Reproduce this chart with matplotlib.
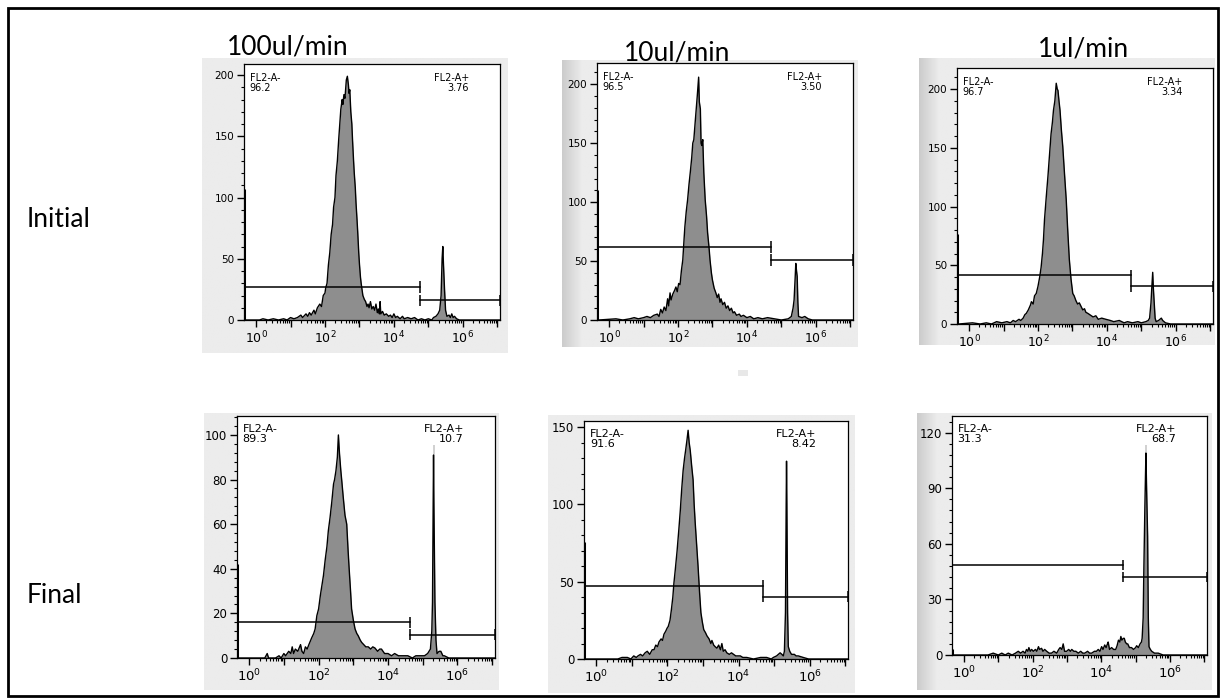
import numpy as np
import matplotlib
matplotlib.use("Agg")
import matplotlib.pyplot as plt
from matplotlib.patches import Rectangle
from matplotlib.ticker import FixedLocator, FuncFormatter, MultipleLocator, AutoMinorLocator

# column / row labels
flow_rates = ["100ul/min", "10ul/min", "1ul/min"]
stages = ["Initial", "Final"]

# gate percentages (FL2-A- / FL2-A+)
neg_pct = ["96.2", "96.5", "96.7", "89.3", "91.6", "31.3"]
pos_pct = ["3.76", "3.50", "3.34", "10.7", "8.42", "68.7"]

# gate boundary (log10 FL2-A) and gate bar heights (counts)
gate_split = [4.77, 4.71, 4.71, 4.62, 4.70, 4.62]
gate_neg_y = [27, 62, 41.5, 16, 47.5, 48.5]
gate_pos_y = [16, 51, 32, 10.4, 40.4, 42]

# events piled up at the lower edge of the axis
edge_counts = [107, 110, 77, 42, 76, 3]

# y axis settings
y_top = [209, 218, 218, 108.5, 154, 129]
y_step = [50, 50, 50, 20, 50, 30]

# histogram outlines: log10(FL2-A) and counts
x_p1 = [-0.3, 0.1, 0.2, 0.35, 0.5, 0.65, 0.8, 0.9, 1.0, 1.1, 1.2, 1.3, 1.35, 1.45, 1.5, 1.55,
        1.6, 1.68, 1.72, 1.78, 1.85, 1.9, 1.95, 2.0, 2.02, 2.06, 2.1, 2.14, 2.18, 2.22, 2.25,
        2.29, 2.32, 2.36, 2.4, 2.43, 2.46, 2.5, 2.52, 2.55, 2.58, 2.62, 2.65, 2.68, 2.7, 2.72,
        2.75, 2.78, 2.8, 2.83, 2.85, 2.88, 2.9, 2.93, 2.95, 2.98, 3.0, 3.03, 3.05, 3.08, 3.1,
        3.14, 3.18, 3.22, 3.25, 3.28, 3.32, 3.36, 3.4, 3.44, 3.48, 3.52, 3.55, 3.58, 3.6, 3.62,
        3.67, 3.72, 3.78, 3.85, 3.9, 3.95, 4.0, 4.05, 4.1, 4.18, 4.25, 4.3, 4.4, 4.5, 4.6, 4.7,
        4.8, 4.9, 5.0, 5.1, 5.15, 5.22, 5.28, 5.33, 5.37, 5.4, 5.42, 5.44, 5.47, 5.5, 5.54, 5.6,
        5.64, 5.68, 5.72, 5.76, 5.82, 5.9, 7.2]
y_p1 = [0, 0, 1, 0, 1, 0, 1, 0, 2, 1, 2, 4, 2, 5, 3, 6,
        4, 8, 5, 10, 13, 11, 20, 22, 26, 30, 45, 55, 70, 78, 92,
        100, 118, 130, 148, 160, 172, 180, 176, 184, 181, 196, 199, 192, 185, 188,
        170, 160, 147, 130, 120, 108, 96, 82, 72, 55, 46, 35, 30, 24, 20,
        17, 15, 11, 13, 10, 15, 9, 11, 8, 13, 6, 9, 5, 15, 5,
        7, 4, 5, 3, 4, 2, 5, 2, 3, 1, 3, 1, 2, 1, 2, 0,
        1, 0, 1, 0, 2, 3, 5, 8, 20, 50, 60, 45, 25, 8, 3, 4,
        2, 5, 2, 3, 1, 0, 0]

x_p2 = [-0.3, 0.2, 0.4, 0.6, 0.73, 0.85, 1.0, 1.1, 1.2, 1.3, 1.4, 1.45, 1.5, 1.55, 1.6, 1.65,
        1.7, 1.73, 1.77, 1.8, 1.85, 1.9, 1.94, 1.98, 2.02, 2.06, 2.1, 2.14, 2.18, 2.2, 2.24,
        2.28, 2.32, 2.36, 2.4, 2.43, 2.46, 2.5, 2.53, 2.56, 2.6, 2.62, 2.65, 2.67, 2.69, 2.72,
        2.75, 2.79, 2.83, 2.86, 2.9, 2.93, 2.97, 3.0, 3.05, 3.1, 3.14, 3.18, 3.22, 3.25, 3.3,
        3.35, 3.4, 3.45, 3.5, 3.55, 3.6, 3.64, 3.7, 3.78, 3.83, 3.9, 4.0, 4.1, 4.2, 4.32, 4.45,
        4.6, 4.8, 5.0, 5.2, 5.29, 5.34, 5.37, 5.4, 5.42, 5.44, 5.46, 5.48, 5.5, 5.6, 5.68, 5.78,
        5.9, 7.2]
y_p2 = [0, 1, 0, 1, 2, 1, 2, 3, 2, 4, 5, 3, 9, 6, 11, 8,
        18, 12, 23, 17, 22, 25, 28, 24, 31, 30, 42, 51, 70, 79, 92,
        102, 115, 126, 138, 150, 153, 168, 179, 190, 206, 185, 179, 150, 148, 153,
        125, 102, 88, 74, 62, 51, 40, 34, 27, 23, 19, 22, 15, 18, 13,
        15, 10, 12, 8, 10, 6, 7, 4, 5, 3, 4, 2, 3, 1, 2, 1,
        2, 1, 0, 1, 3, 10, 17, 35, 48, 42, 37, 15, 3, 2, 3, 1,
        0, 0]

x_p3 = [-0.3, 0.1, 0.32, 0.5, 0.65, 0.8, 0.95, 1.1, 1.2, 1.28, 1.35, 1.45, 1.5, 1.57, 1.62,
        1.66, 1.72, 1.78, 1.81, 1.86, 1.9, 1.95, 2.0, 2.05, 2.09, 2.13, 2.16, 2.19, 2.24, 2.29,
        2.33, 2.38, 2.42, 2.45, 2.49, 2.53, 2.56, 2.58, 2.61, 2.64, 2.68, 2.72, 2.77, 2.82,
        2.86, 2.91, 2.96, 3.01, 3.05, 3.1, 3.15, 3.2, 3.25, 3.3, 3.35, 3.39, 3.45, 3.5, 3.6,
        3.68, 3.75, 3.85, 3.97, 4.1, 4.2, 4.36, 4.5, 4.6, 4.74, 4.9, 5.0, 5.13, 5.2, 5.24,
        5.28, 5.3, 5.33, 5.35, 5.37, 5.4, 5.43, 5.5, 5.58, 5.62, 5.7, 5.85, 7.2]
y_p3 = [0, 1, 0, 1, 0, 2, 1, 2, 1, 3, 2, 4, 3, 5, 8,
        9, 12, 16, 19, 17, 24, 26, 32, 40, 48, 60, 72, 89, 108, 126,
        142, 162, 172, 182, 190, 205, 200, 199, 190, 182, 165, 151, 128, 106,
        82, 55, 38, 26, 24, 20, 17, 18, 15, 12, 13, 10, 9, 8, 6,
        7, 4, 5, 4, 3, 2, 3, 1, 2, 1, 2, 1, 2, 3, 5,
        18, 29, 44, 30, 20, 5, 2, 3, 5, 3, 1, 0, 0]

x_p4 = [-0.3, 0.38, 0.45, 0.52, 0.56, 0.76, 0.86, 0.92, 1.0, 1.05, 1.14, 1.2, 1.24, 1.28, 1.33,
        1.4, 1.48, 1.52, 1.57, 1.62, 1.67, 1.72, 1.76, 1.8, 1.86, 1.9, 1.95, 2.0, 2.05, 2.1,
        2.14, 2.19, 2.24, 2.28, 2.33, 2.38, 2.43, 2.46, 2.5, 2.54, 2.57, 2.6, 2.64, 2.67, 2.71,
        2.76, 2.81, 2.85, 2.88, 2.92, 2.95, 3.0, 3.05, 3.1, 3.14, 3.2, 3.24, 3.3, 3.36, 3.43,
        3.5, 3.56, 3.62, 3.7, 3.76, 3.81, 3.9, 4.0, 4.1, 4.19, 4.3, 4.45, 4.57, 4.7, 4.8, 4.95,
        5.05, 5.14, 5.22, 5.26, 5.28, 5.3, 5.31, 5.32, 5.35, 5.38, 5.41, 5.47, 5.52, 5.58,
        5.62, 5.75, 7.2]
y_p4 = [0, 0, 0, 2, 0, 0, 1, 0, 2, 1, 3, 2, 5, 2, 4,
        3, 6, 3, 2, 5, 4, 6, 7.5, 9, 11, 13, 19, 22, 28, 33,
        37, 44, 50, 57, 63, 70, 78, 80, 84, 90, 100, 92, 84, 79, 72,
        64, 60, 48, 40, 30, 22, 17, 13, 11, 10, 8, 7, 6, 5, 5,
        4, 5, 4.5, 3, 4, 4, 2, 2, 1, 2, 1, 1, 1, 0, 1, 1,
        1, 2, 4, 12, 25, 70, 91, 70, 25, 8, 2, 3, 3, 1,
        1, 0, 0]

x_p5 = [-0.3, 0.6, 0.72, 0.87, 0.97, 1.05, 1.12, 1.17, 1.24, 1.3, 1.37, 1.43, 1.5, 1.57, 1.62,
        1.67, 1.72, 1.76, 1.82, 1.86, 1.9, 1.95, 1.99, 2.02, 2.07, 2.11, 2.15, 2.18, 2.22, 2.27,
        2.32, 2.36, 2.4, 2.44, 2.48, 2.51, 2.55, 2.58, 2.61, 2.64, 2.68, 2.72, 2.75, 2.78, 2.82,
        2.86, 2.9, 2.94, 2.98, 3.02, 3.07, 3.11, 3.17, 3.22, 3.25, 3.3, 3.34, 3.39, 3.44, 3.49,
        3.53, 3.57, 3.62, 3.67, 3.74, 3.8, 3.86, 3.92, 4.05, 4.12, 4.23, 4.42, 4.62, 4.79, 4.92,
        4.98, 5.07, 5.17, 5.22, 5.26, 5.29, 5.32, 5.34, 5.35, 5.36, 5.38, 5.4, 5.44, 5.49,
        5.57, 5.62, 5.68, 5.82, 5.97, 7.2]
y_p5 = [0, 0, 1, 1, 0, 2, 1, 2, 3, 2, 4, 5, 3, 6, 6,
        9, 8, 11, 13, 12, 16, 18, 20, 21, 25, 32, 40, 49, 58, 70,
        84, 96, 110, 122, 130, 135, 142, 148, 140, 135, 125, 116, 100, 88, 74,
        60, 44, 30, 24, 19, 17, 15, 13, 10, 12, 9, 8, 7, 9, 6,
        10, 5, 6, 4, 3, 4, 3, 2, 2, 1, 1, 0, 1, 1, 0,
        1, 2, 4, 3, 2, 5, 30, 100, 128, 100, 30, 8, 5, 3,
        3, 2, 2, 1, 0, 0]

x_p6 = [-0.3, 0.42, 0.7, 0.85, 1.0, 1.1, 1.2, 1.29, 1.4, 1.5, 1.58, 1.65, 1.72, 1.78, 1.82,
        1.86, 1.89, 1.93, 1.97, 2.02, 2.08, 2.12, 2.17, 2.2, 2.26, 2.3, 2.35, 2.41, 2.48, 2.55,
        2.62, 2.7, 2.76, 2.8, 2.85, 2.89, 2.93, 2.99, 3.05, 3.1, 3.14, 3.2, 3.26, 3.33, 3.4,
        3.46, 3.52, 3.6, 3.66, 3.72, 3.8, 3.86, 3.91, 3.96, 4.01, 4.05, 4.1, 4.14, 4.18, 4.2,
        4.24, 4.3, 4.36, 4.42, 4.46, 4.5, 4.54, 4.57, 4.6, 4.64, 4.67, 4.7, 4.74, 4.77, 4.82,
        4.88, 4.94, 5.0, 5.03, 5.08, 5.13, 5.17, 5.19, 5.22, 5.24, 5.27, 5.3, 5.32, 5.35, 5.37,
        5.39, 5.43, 5.47, 5.55, 5.66, 5.8, 7.2]
y_p6 = [0, 0, 0, 1, 0, 1, 0, 1, 0, 1, 2, 1, 2, 1, 3,
        2, 4, 2, 3, 2, 3, 2, 4.5, 3, 3.6, 2, 3, 2, 1, 1,
        2, 1, 3, 4, 3, 6, 2, 2, 3, 2, 3, 2, 2, 1, 2,
        1, 1, 2, 1, 1, 2, 2, 3, 2, 4.5, 3, 5.4, 4, 6, 7,
        3, 4, 3, 3, 5, 8, 7, 10, 8, 9, 9, 7, 6, 6, 4,
        4, 3, 4, 5, 4, 6, 7, 9, 20, 46, 80, 109, 90, 64, 20,
        4.5, 3, 2, 1, 1, 0, 0]

hist_x = [x_p1, x_p2, x_p3, x_p4, x_p5, x_p6]
hist_y = [y_p1, y_p2, y_p3, y_p4, y_p5, y_p6]

W, H = 1225, 698


def px_rect(x0, y0, x1, y1):
    return [x0 / W, 1 - y1 / H, (x1 - x0) / W, (y1 - y0) / H]


# panel boxes in pixels (axes, grey backdrop)
axes_px = [(244, 64, 500, 320), (597, 63, 853, 320), (957, 68, 1213, 324),
           (237, 416, 495, 658), (584, 421, 848, 659), (952, 416, 1207, 655)]
back_px = [(202, 58, 508, 353), (562, 60, 858, 347), (919, 58, 1215, 345),
           (204, 413, 499, 690), (548, 415, 855, 693), (917, 413, 1212, 690)]
shaded_left = [False, True, True, False, False, True]
show_cursor = [False, False, False, True, False, True]

plt.rcParams['font.family'] = ['DejaVu Sans']
fig = plt.figure(figsize=(W / 100, H / 100), dpi=100)

# outer frame
fig.patches.append(Rectangle((8 / W, 2 / H), 1210 / W, 1 - 10 / H, transform=fig.transFigure,
                             fill=False, edgecolor='black', lw=2))

x_lo, x_hi = -0.35, 7.08

for i in range(6):
    # grey screenshot backdrop
    bg = fig.add_axes(px_rect(*back_px[i]), zorder=0)
    grad = np.full((2, 200), 0.922)
    if shaded_left[i]:
        grad[:, :14] = np.linspace(0.80, 0.922, 14)
    bg.imshow(grad, cmap='gray', vmin=0, vmax=1, aspect='auto', interpolation='bilinear')
    bg.axis('off')

    ax = fig.add_axes(px_rect(*axes_px[i]), zorder=1)
    ax.set_facecolor('white')
    xs = 10 ** np.array(hist_x[i])
    ys = np.array(hist_y[i])
    ax.fill_between(xs, ys, color='#8e8e8e', lw=0, zorder=2)
    ax.plot(xs, ys, color='black', lw=1.0, zorder=3)
    ax.vlines(10 ** x_lo, 0, edge_counts[i], color='black', lw=2.2, zorder=3)

    if show_cursor[i]:
        k = int(np.argmax(np.where(np.array(hist_x[i]) > 4.5, ys, 0)))
        ax.vlines(xs[k], ys[k], y_top[i] * 0.88, color='#c8c8c8', lw=1.2, zorder=1.5)

    ax.set_xscale('log')
    ax.set_xlim(10 ** x_lo, 10 ** x_hi)
    ax.set_ylim(0, y_top[i])

    # gates
    split = 10 ** gate_split[i]
    tick_h = y_top[i] * 0.022
    ax.plot([10 ** x_lo, split], [gate_neg_y[i]] * 2, color='black', lw=1.1, zorder=4)
    ax.vlines(split, gate_neg_y[i] - tick_h, gate_neg_y[i] + tick_h, color='black', lw=1.1, zorder=4)
    ax.plot([split, 10 ** x_hi], [gate_pos_y[i]] * 2, color='black', lw=1.1, zorder=4)
    ax.vlines([split, 10 ** x_hi * 0.985], gate_pos_y[i] - tick_h, gate_pos_y[i] + tick_h,
              color='black', lw=1.1, zorder=4)

    top_row = i < 3
    fs = 7 if top_row else 8
    ax.text(0.022, 0.965, "FL2-A-\n" + neg_pct[i], transform=ax.transAxes, ha='left', va='top',
            fontsize=fs, linespacing=1.0)
    ax.text(0.88, 0.965, "FL2-A+\n" + pos_pct[i], transform=ax.transAxes, ha='right', va='top',
            fontsize=fs, linespacing=1.0, multialignment='right')

    # x axis: decades, labels on even ones
    ax.xaxis.set_major_locator(FixedLocator([10.0 ** k for k in range(0, 8)]))
    ax.xaxis.set_major_formatter(FuncFormatter(
        lambda v, p: r"$10^{%d}$" % round(np.log10(v)) if round(np.log10(v)) % 2 == 0 else ""))
    ax.xaxis.set_minor_locator(FixedLocator([m * 10.0 ** k for k in range(0, 8) for m in range(2, 10)]))
    ax.yaxis.set_major_locator(MultipleLocator(y_step[i]))
    ax.yaxis.set_minor_locator(AutoMinorLocator(5))
    ax.tick_params(which='major', direction='out', length=5, width=1.0, pad=2)
    ax.tick_params(which='minor', direction='out', length=2.5, width=0.8)
    ax.tick_params(axis='x', labelsize=9 if top_row else 9.5)
    ax.tick_params(axis='y', labelsize=7.5 if top_row else 8.5)
    for s in ax.spines.values():
        s.set_linewidth(0.9)

title_pos = [(288, 54), (677, 60), (1083, 56)]
for name, (tx, ty) in zip(flow_rates, title_pos):
    fig.text(tx / W, 1 - ty / H, name, ha='center', va='baseline', fontsize=19, family='Lato')

fig.text(27 / W, 1 - 227 / H, stages[0], ha='left', va='baseline', fontsize=19, family='Lato')
fig.text(27 / W, 1 - 603 / H, stages[1], ha='left', va='baseline', fontsize=19, family='Lato')

# small grey speck between the middle panels
fig.patches.append(Rectangle((738 / W, 1 - 376 / H), 10 / W, 6 / H, transform=fig.transFigure,
                             color='#e8e8e8', lw=0))

fig.savefig("out.png", dpi=100)
